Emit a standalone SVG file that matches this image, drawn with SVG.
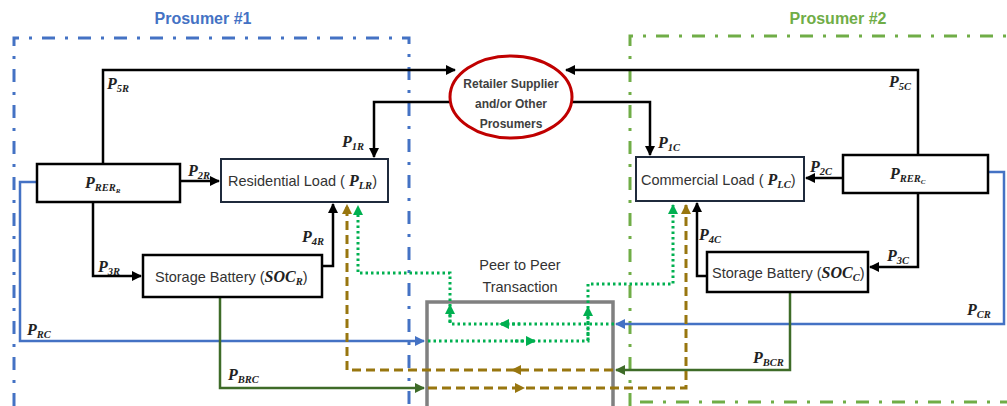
<svg xmlns="http://www.w3.org/2000/svg" width="1007" height="406" viewBox="0 0 1007 406">
<defs>
<style>
.t{font-family:"Liberation Sans",Arial,sans-serif;font-size:14.5px;fill:#333}
.tb{font-family:"Liberation Sans",Arial,sans-serif;font-size:12px;font-weight:bold;fill:#404040}
.m{font-family:"Liberation Serif","Times New Roman",serif;font-style:italic;font-weight:bold;font-size:16px;fill:#222}
.s{font-size:10.5px}
.ss{font-size:7px}
.box{fill:#fff;stroke:#000;stroke-width:2.5}
.lbox{fill:#fff;stroke:#1f2a3c;stroke-width:2}
.blk{fill:none;stroke:#000;stroke-width:2.5}
.blu{fill:none;stroke:#4472c4;stroke-width:2.5}
.dg{fill:none;stroke:#3e6b28;stroke-width:2.5}
.gd{fill:none;stroke:#00b050;stroke-width:3;stroke-dasharray:2.5 3}
.br{fill:none;stroke:#98760f;stroke-width:3;stroke-dasharray:9 5}
</style>
<marker id="ak" viewBox="0 0 10 10" refX="9" refY="5" markerWidth="4" markerHeight="4" orient="auto" markerUnits="strokeWidth"><path d="M0,0 L10,5 L0,10 z" fill="#000"/></marker>
<marker id="ab" viewBox="0 0 10 10" refX="9" refY="5" markerWidth="4" markerHeight="4" orient="auto" markerUnits="strokeWidth"><path d="M0,0 L10,5 L0,10 z" fill="#4472c4"/></marker>
<marker id="adg" viewBox="0 0 10 10" refX="9" refY="5" markerWidth="4" markerHeight="4" orient="auto" markerUnits="strokeWidth"><path d="M0,0 L10,5 L0,10 z" fill="#3e6b28"/></marker>
<marker id="ag" viewBox="0 0 10 10" refX="9" refY="5" markerWidth="3.5" markerHeight="3.5" orient="auto" markerUnits="strokeWidth"><path d="M0,0 L10,5 L0,10 z" fill="#00b050"/></marker>
<marker id="abr" viewBox="0 0 10 10" refX="9" refY="5" markerWidth="3.5" markerHeight="3.5" orient="auto" markerUnits="strokeWidth"><path d="M0,0 L10,5 L0,10 z" fill="#98760f"/></marker>
</defs>
<rect width="1007" height="406" fill="#fff"/>

<g id="prosumer1">
<path d="M14,406 V38 H409 V406" fill="none" stroke="#4472c4" stroke-width="3" stroke-dasharray="13 10 3 10"/>
<text x="203" y="24" text-anchor="middle" font-family="Liberation Sans,Arial,sans-serif" font-weight="bold" font-size="16" fill="#4472c4">Prosumer #1</text>
</g>
<g id="prosumer2">
<path d="M630,406 V36 H1007 M640,402 H1007" fill="none" stroke="#70ad47" stroke-width="3" stroke-dasharray="13 10 3 10"/>
<text x="838" y="24" text-anchor="middle" font-family="Liberation Sans,Arial,sans-serif" font-weight="bold" font-size="16" fill="#70ad47">Prosumer #2</text>
</g>

<g id="p2p">
<path d="M427,406 V302 H613 V406" fill="none" stroke="#808080" stroke-width="3.5"/>
<text class="t" x="520" y="270" text-anchor="middle">Peer to Peer</text>
<text class="t" x="520" y="292" text-anchor="middle">Transaction</text>
</g>

<g id="connectors">
<path class="blk" d="M103,163 V70 H455" marker-end="url(#ak)"/>
<path class="blk" d="M918,155 V70 H566" marker-end="url(#ak)"/>
<path class="blk" d="M450,102 H374 V157" marker-end="url(#ak)"/>
<path class="blk" d="M572,102 H650 V155" marker-end="url(#ak)"/>
<path class="blk" d="M180,181 H219" marker-end="url(#ak)"/>
<path class="blk" d="M93,202 V276 H141" marker-end="url(#ak)"/>
<path class="blk" d="M322,266 H333 V204" marker-end="url(#ak)"/>
<path class="blk" d="M843,178 H806" marker-end="url(#ak)"/>
<path class="blk" d="M918,193 V267 H870" marker-end="url(#ak)"/>
<path class="blk" d="M707,276 H697 V203" marker-end="url(#ak)"/>
<path class="blu" d="M37,182 H20 V341 H424" marker-end="url(#ab)"/>
<path class="blu" d="M988,172 H1004 V324 H616" marker-end="url(#ab)"/>
<path class="dg" d="M220,297 V388 H424" marker-end="url(#adg)"/>
<path class="dg" d="M790,292 V370 H616" marker-end="url(#adg)"/>
<path class="gd" d="M614,324 H450 V273 H358 V206" marker-end="url(#ag)"/>
<path class="gd" d="M428,341 H588 V284 H673 V205" marker-end="url(#ag)"/>
<path class="gd" d="M450,322 V305" marker-end="url(#ag)"/>
<path class="gd" d="M588,340 V307" marker-end="url(#ag)"/>
<path class="gd" d="M520,324 H500" marker-end="url(#ag)"/>
<path class="gd" d="M515,341 H535" marker-end="url(#ag)"/>
<path class="br" d="M613,370 H347 V205" marker-end="url(#abr)"/>
<path class="br" d="M428,388 H686 V205" marker-end="url(#abr)"/>
<path fill="#98760f" d="M511,370 L521,365 L521,375 z"/>
<path fill="#98760f" d="M525,388 L515,383 L515,393 z"/>
</g>

<g id="retailer">
<ellipse cx="511" cy="97" rx="61" ry="41" fill="#fff" stroke="#c00000" stroke-width="3"/>
<text class="tb" x="511" y="88" text-anchor="middle">Retailer Supplier</text>
<text class="tb" x="511" y="108" text-anchor="middle">and/or Other</text>
<text class="tb" x="511" y="128" text-anchor="middle">Prosumers</text>
</g>

<g id="prer_r">
<rect class="box" x="37" y="164" width="143" height="38"/>
<text class="m" x="85" y="188">P<tspan class="s" dy="3">RER</tspan><tspan class="ss" dy="2">R</tspan></text>
</g>
<g id="resload">
<rect class="lbox" x="221" y="159" width="167" height="43"/>
<text class="t" x="228" y="186">Residential Load ( <tspan class="m">P</tspan><tspan class="m s" dy="3">LR</tspan><tspan dy="-3">)</tspan></text>
</g>
<g id="battery_r">
<rect class="box" x="143" y="255" width="179" height="42"/>
<text class="t" x="155" y="282">Storage Battery (<tspan class="m">SOC</tspan><tspan class="m s" dy="3">R</tspan><tspan dy="-3">)</tspan></text>
</g>
<g id="prer_c">
<rect class="box" x="843" y="155" width="145" height="38"/>
<text class="m" x="890" y="179">P<tspan class="s" dy="3">RER</tspan><tspan class="ss" dy="2">C</tspan></text>
</g>
<g id="comload">
<rect class="lbox" x="636" y="157" width="168" height="44"/>
<text class="t" x="641" y="185">Commercial Load ( <tspan class="m">P</tspan><tspan class="m s" dy="3">LC</tspan><tspan dy="-3">)</tspan></text>
</g>
<g id="battery_c">
<rect class="box" x="707" y="252" width="161" height="40"/>
<text class="t" x="712" y="278">Storage Battery (<tspan class="m">SOC</tspan><tspan class="m s" dy="3">C</tspan><tspan dy="-3">)</tspan></text>
</g>

<g id="labels">
<text class="m" x="107" y="89">P<tspan class="s" dy="3">5R</tspan></text>
<text class="m" x="342" y="147">P<tspan class="s" dy="3">1R</tspan></text>
<text class="m" x="188" y="176">P<tspan class="s" dy="3">2R</tspan></text>
<text class="m" x="98" y="272">P<tspan class="s" dy="3">3R</tspan></text>
<text class="m" x="302" y="242">P<tspan class="s" dy="3">4R</tspan></text>
<text class="m" x="27" y="335">P<tspan class="s" dy="3">RC</tspan></text>
<text class="m" x="228" y="380">P<tspan class="s" dy="3">BRC</tspan></text>
<text class="m" x="889" y="87">P<tspan class="s" dy="3">5C</tspan></text>
<text class="m" x="658" y="148">P<tspan class="s" dy="3">1C</tspan></text>
<text class="m" x="810" y="172">P<tspan class="s" dy="3">2C</tspan></text>
<text class="m" x="887" y="261">P<tspan class="s" dy="3">3C</tspan></text>
<text class="m" x="699" y="240">P<tspan class="s" dy="3">4C</tspan></text>
<text class="m" x="967" y="315">P<tspan class="s" dy="3">CR</tspan></text>
<text class="m" x="753" y="363">P<tspan class="s" dy="3">BCR</tspan></text>
</g>
</svg>
